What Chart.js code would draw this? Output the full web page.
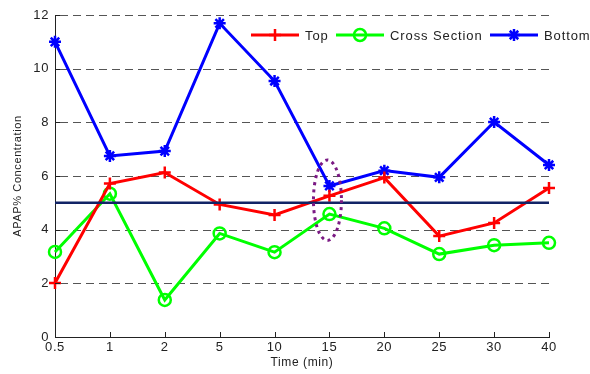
<!DOCTYPE html>
<html>
<head>
<meta charset="utf-8">
<script src="https://cdn.jsdelivr.net/npm/chart.js@4"></script>
<style>
  html, body { margin: 0; padding: 0; background: #ffffff; }
  #wrap { width: 590px; height: 374px; position: relative; }
</style>
</head>
<body>
<div id="wrap"><canvas id="c" width="590" height="374"></canvas></div>
<script>
// ---- data ----
const categories = ['0.5', '1', '2', '5', '10', '15', '20', '25', '30', '40'];
const topValues = [2.01, 5.72, 6.13, 4.94, 4.55, 5.26, 5.94, 3.76, 4.25, 5.55];
const crossValues = [3.17, 5.34, 1.38, 3.86, 3.16, 4.58, 4.05, 3.09, 3.42, 3.51];
const bottomValues = [11.0, 6.75, 6.93, 11.69, 9.54, 5.63, 6.2, 5.95, 8.01, 6.41];
const yTickValues = [0, 2, 4, 6, 8, 10, 12];
const targetLevel = 5;
const seriesNames = ['Top', 'Cross Section', 'Bottom'];
// highlighted region (dotted ellipse) around the 15-min point
const highlightCategory = '15';
const highlightRange = [3.6, 6.6];

const FONT = "'Liberation Sans', Arial, Helvetica, sans-serif";
const TEXT = '#222222';

const gridPlugin = {
  id: 'dashGrid',
  beforeDraw(chart) {
    try { chart.ctx.letterSpacing = '0.6px'; } catch (e) {}
  },
  beforeDatasetsDraw(chart) {
    const { ctx, chartArea, scales } = chart;
    const ys = scales.y;
    ctx.save();
    ctx.strokeStyle = '#555555';
    ctx.lineWidth = 1;
    ctx.setLineDash([8, 5]);
    yTickValues.forEach(v => {
      if (v === 0) return;
      const y = Math.round(ys.getPixelForValue(v)) + 0.5;
      ctx.beginPath();
      ctx.moveTo(chartArea.left + 5, y);
      ctx.lineTo(chartArea.right, y);
      ctx.stroke();
    });
    ctx.restore();
  }
};

const extrasPlugin = {
  id: 'extras',
  afterDatasetsDraw(chart) {
    const { ctx, chartArea, scales } = chart;
    const xs = scales.x, ys = scales.y;
    ctx.save();
    // target line
    const yT = ys.getPixelForValue(targetLevel);
    ctx.strokeStyle = '#122466';
    ctx.lineWidth = 2.5;
    ctx.beginPath();
    ctx.moveTo(chartArea.left, yT);
    ctx.lineTo(chartArea.right, yT);
    ctx.stroke();

    // dotted ellipse
    const cx = xs.getPixelForValue(categories.indexOf(highlightCategory)) - 2;
    const yTop = ys.getPixelForValue(highlightRange[1]);
    const yBot = ys.getPixelForValue(highlightRange[0]);
    ctx.strokeStyle = '#7b1a84';
    ctx.lineWidth = 3;
    ctx.setLineDash([3, 4]);
    ctx.beginPath();
    ctx.ellipse(cx, (yTop + yBot) / 2, 14, (yBot - yTop) / 2, 0, 0, Math.PI * 2);
    ctx.stroke();
    ctx.setLineDash([]);

    // inward x ticks
    ctx.strokeStyle = '#222';
    ctx.lineWidth = 1;
    categories.forEach((c, i) => {
      const x = Math.round(xs.getPixelForValue(i)) + 0.5;
      ctx.beginPath();
      ctx.moveTo(x, chartArea.bottom);
      ctx.lineTo(x, chartArea.bottom - 5);
      ctx.stroke();
    });
    // inward y ticks
    yTickValues.forEach(v => {
      const y = Math.round(ys.getPixelForValue(v)) + 0.5;
      ctx.beginPath();
      ctx.moveTo(chartArea.left, y);
      ctx.lineTo(chartArea.left + 5, y);
      ctx.stroke();
    });

    // legend
    const starts = [196, 281, 435];
    const ly = chartArea.top + 20;
    ctx.font = '13px ' + FONT;
    ctx.textBaseline = 'middle';
    ctx.textAlign = 'left';
    try { ctx.letterSpacing = '0.9px'; } catch (e) {}
    seriesNames.forEach((name, i) => {
      const ds = chart.data.datasets[i];
      const lx = chartArea.left + starts[i];
      ctx.strokeStyle = ds.borderColor;
      ctx.lineWidth = 3;
      ctx.beginPath();
      ctx.moveTo(lx, ly);
      ctx.lineTo(lx + 48, ly);
      ctx.stroke();
      ctx.strokeStyle = ds.pointBorderColor;
      ctx.fillStyle = ds.pointBackgroundColor;
      ctx.lineWidth = ds.pointBorderWidth;
      Chart.helpers.drawPoint(ctx, {
        pointStyle: ds.pointStyle,
        radius: ds.pointRadius,
        borderWidth: ds.pointBorderWidth,
        rotation: 0
      }, lx + 24, ly);
      ctx.fillStyle = TEXT;
      ctx.fillText(name, lx + 54, ly + 1);
    });
    ctx.restore();
  }
};

function mkSet(label, data, color, pointStyle, radius) {
  return {
    label, data,
    borderColor: color,
    backgroundColor: color,
    pointBorderColor: color,
    pointBackgroundColor: pointStyle === 'circle' ? 'rgba(0,0,0,0)' : color,
    borderWidth: 3,
    pointStyle,
    pointRadius: radius,
    pointBorderWidth: 2.5,
    tension: 0,
    fill: false
  };
}

new Chart(document.getElementById('c'), {
  type: 'line',
  data: {
    labels: categories,
    datasets: [
      mkSet(seriesNames[0], topValues, '#ff0000', 'cross', 6),
      mkSet(seriesNames[1], crossValues, '#00ff00', 'circle', 6),
      mkSet(seriesNames[2], bottomValues, '#0000ff', 'star', 6)
    ]
  },
  options: {
    responsive: false,
    animation: false,
    devicePixelRatio: 1,
    layout: { padding: { top: 15, right: 41, left: 0, bottom: 0 } },
    plugins: { legend: { display: false }, tooltip: { enabled: false } },
    scales: {
      x: {
        offset: false,
        grid: { display: false, drawTicks: false },
        border: { color: '#222', width: 1 },
        ticks: { color: TEXT, font: { family: FONT, size: 13 }, padding: 3, maxRotation: 0, autoSkip: false },
        title: { display: true, text: 'Time (min)', color: TEXT, font: { family: FONT, size: 12 }, padding: { top: 0, bottom: 4 } },
        afterFit(scale) { scale.height = 37; }
      },
      y: {
        min: 0, max: 12,
        afterBuildTicks(scale) { scale.ticks = yTickValues.map(v => ({ value: v })); },
        grid: { display: false, drawTicks: false },
        border: { color: '#222', width: 1 },
        ticks: { color: TEXT, font: { family: FONT, size: 13 }, padding: 6 },
        title: { display: true, text: 'APAP% Concentration', color: TEXT, font: { family: FONT, size: 11 }, padding: { top: 11, bottom: 0 } },
        afterFit(scale) { scale.width = 55; }
      }
    }
  },
  plugins: [gridPlugin, extrasPlugin]
});
</script>
</body>
</html>
